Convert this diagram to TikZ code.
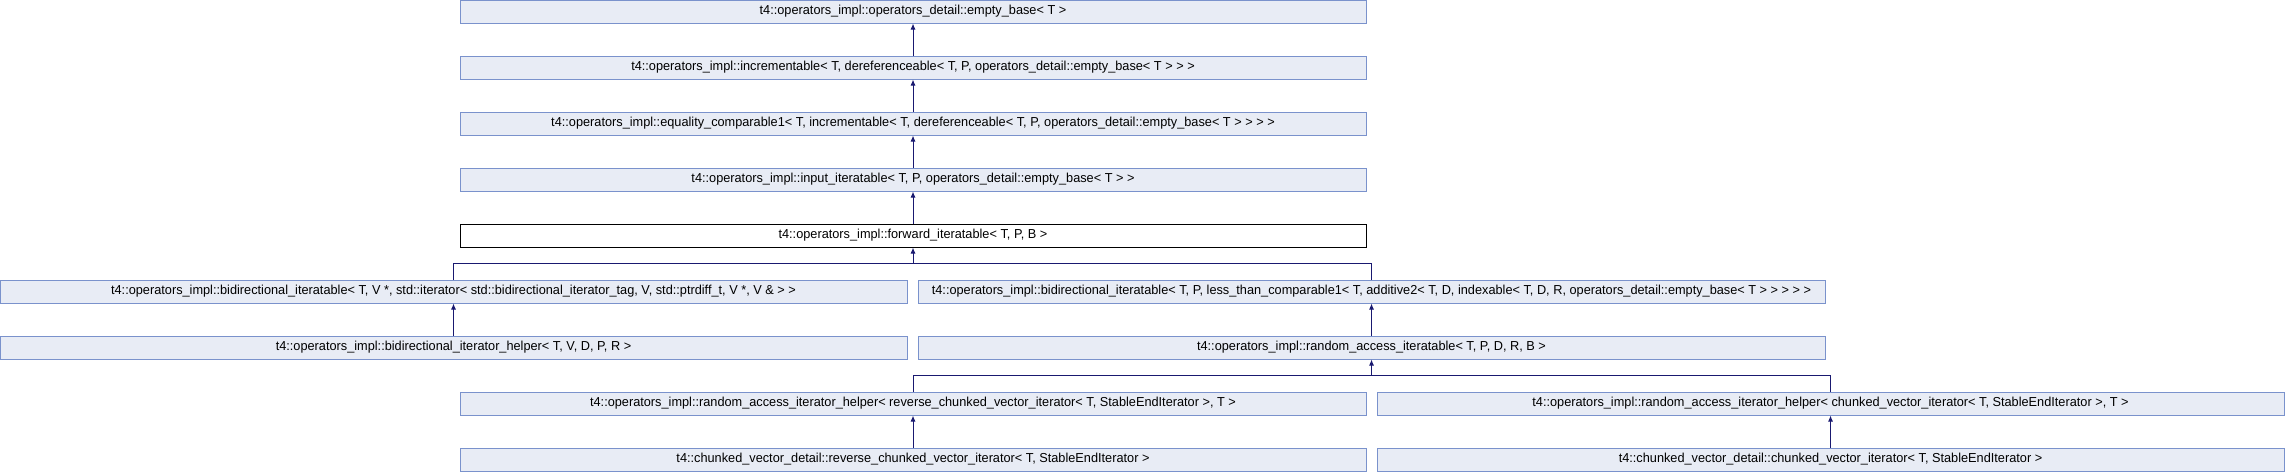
\documentclass[tikz,border=0pt]{standalone}
\usepackage{fontspec}
\setmainfont{Liberation Sans}[FakeStretch=0.98]
\usetikzlibrary{arrows.meta, positioning}
\definecolor{clsfill}{RGB}{232,236,245}
\definecolor{clsline}{RGB}{122,146,204}
\definecolor{inhline}{RGB}{25,25,112}

\begin{document}
\begin{tikzpicture}[x=1pt, y=-1pt,
	cls/.style={draw=clsline, fill=clsfill, line width=1pt, minimum height=23pt, minimum width=906pt, inner sep=0pt, font=\fontsize{13}{15}\selectfont},
	self/.style={cls, draw=black, fill=white},
	inh/.style={-{Latex[length=6pt, width=5pt]}, draw=inhline, line width=1pt}]

		\useasboundingbox (0,0) rectangle (2285,472);

		% nodes - middle column %
		\node[cls] (empty) at (913,11.5) {t4::operators\_impl::operators\_detail::empty\_base< T >};
		\node[cls] (incr) at (913,67.5) {t4::operators\_impl::incrementable< T, dereferenceable< T, P, operators\_detail::empty\_base< T > > >};
		\node[cls] (eqcmp) at (913,123.5) {t4::operators\_impl::equality\_comparable1< T, incrementable< T, dereferenceable< T, P, operators\_detail::empty\_base< T > > > >};
		\node[cls] (input) at (913,179.5) {t4::operators\_impl::input\_iteratable< T, P, operators\_detail::empty\_base< T > >};
		\node[self] (fwd) at (913,235.5) {t4::operators\_impl::forward\_iteratable< T, P, B >};

		% nodes - bidirectional / random access %
		\node[cls, minimum width=907pt] (bidirstd) at (453.5,291.5) {t4::operators\_impl::bidirectional\_iteratable< T, V *, std::iterator< std::bidirectional\_iterator\_tag, V, std::ptrdiff\_t, V *, V \& > >};
		\node[cls, minimum width=907pt] (bidirless) at (1371.5,291.5) {t4::operators\_impl::bidirectional\_iteratable< T, P, less\_than\_comparable1< T, additive2< T, D, indexable< T, D, R, operators\_detail::empty\_base< T > > > > >};
		\node[cls, minimum width=907pt] (bidirhelp) at (453.5,347.5) {t4::operators\_impl::bidirectional\_iterator\_helper< T, V, D, P, R >};
		\node[cls, minimum width=907pt] (randiter) at (1371.5,347.5) {t4::operators\_impl::random\_access\_iteratable< T, P, D, R, B >};

		% nodes - chunked vector iterators %
		\node[cls] (revhelp) at (913,403.5) {t4::operators\_impl::random\_access\_iterator\_helper< reverse\_chunked\_vector\_iterator< T, StableEndIterator >, T >};
		\node[cls, minimum width=907pt] (fwdhelp) at (1830.5,403.5) {t4::operators\_impl::random\_access\_iterator\_helper< chunked\_vector\_iterator< T, StableEndIterator >, T >};
		\node[cls] (reviter) at (913,459.5) {t4::chunked\_vector\_detail::reverse\_chunked\_vector\_iterator< T, StableEndIterator >};
		\node[cls, minimum width=907pt] (chunkiter) at (1830.5,459.5) {t4::chunked\_vector\_detail::chunked\_vector\_iterator< T, StableEndIterator >};

		\coordinate (forkA) at (913,263.5);
		\coordinate (forkB) at (1371.5,375.5);

		% edges %
		\draw[inh] (incr) -- (empty);
		\draw[inh] (eqcmp) -- (incr);
		\draw[inh] (input) -- (eqcmp);
		\draw[inh] (fwd) -- (input);
		\draw[draw=inhline, line width=1pt] (bidirstd.north) |- (forkA) -| (bidirless.north);
		\draw[inh] (forkA) -- (fwd);
		\draw[inh] (bidirhelp) -- (bidirstd);
		\draw[inh] (randiter) -- (bidirless);
		\draw[draw=inhline, line width=1pt] (revhelp.north) |- (forkB) -| (fwdhelp.north);
		\draw[inh] (forkB) -- (randiter);
		\draw[inh] (reviter) -- (revhelp);
		\draw[inh] (chunkiter) -- (fwdhelp);

\end{tikzpicture}
\end{document}
